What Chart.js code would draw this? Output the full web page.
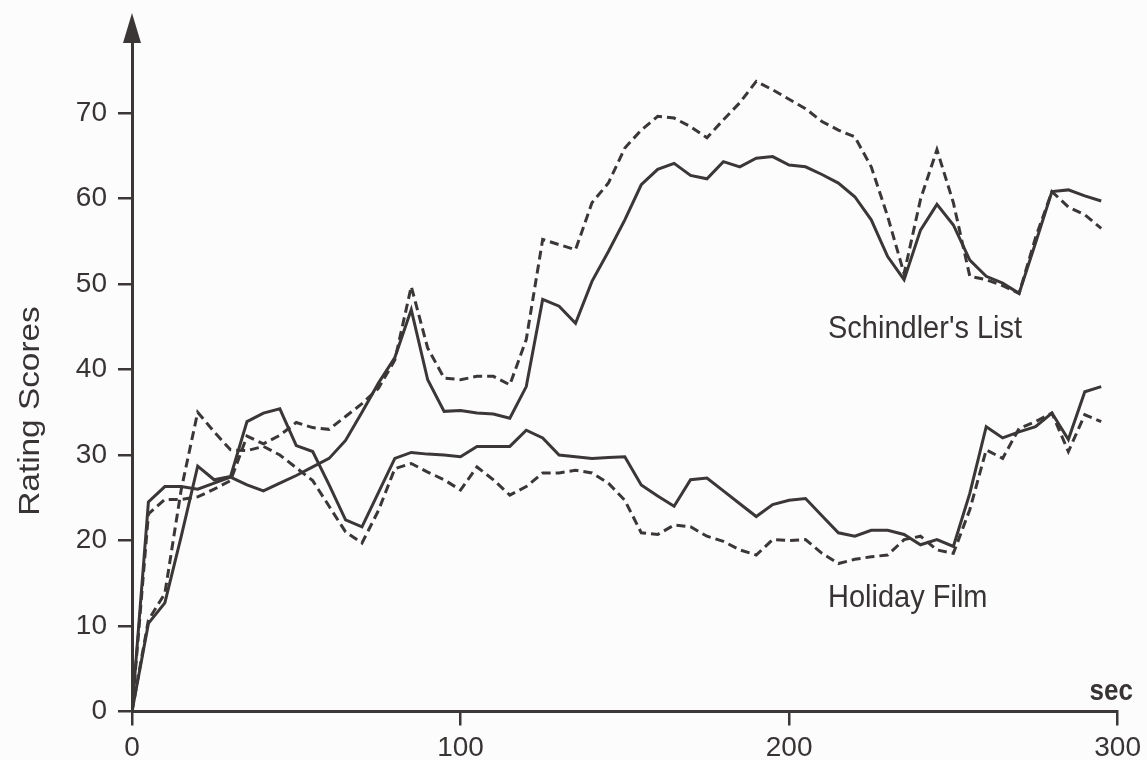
<!DOCTYPE html>
<html>
<head>
<meta charset="utf-8">
<script src="https://cdn.jsdelivr.net/npm/chart.js@4.4.1/dist/chart.umd.min.js"></script>
<style>
  html, body { margin: 0; padding: 0; background: #fcfcfc; }
  #wrap { width: 1147px; height: 760px; position: relative; }
</style>
</head>
<body>
<div id="wrap"><canvas id="c"></canvas></div>
<script>
// ---- data (seconds, rating scores) ----
const times = [0,5,10,15,20,25,30,35,40,45,50,55,60,65,70,75,80,85,90,95,
  100,105,110,115,120,125,130,135,140,145,150,155,160,165,170,175,180,185,190,195,
  200,205,210,215,220,225,230,235,240,245,250,255,260,265,270,275,280,285,290,295];

const schindlerSolid = [0,24.5,26.3,26.3,26,26.7,27.4,26.5,25.8,26.7,27.6,28.6,29.6,31.7,35,38.4,41.4,47,38.8,35.1,
  35.2,34.9,34.8,34.3,38,48.2,47.4,45.4,50.3,53.8,57.5,61.6,63.4,64.1,62.7,62.3,64.3,63.7,64.7,64.9,
  63.9,63.7,62.8,61.8,60.2,57.5,53.2,50.5,56.3,59.3,56.9,52.8,50.9,50.1,48.9,54.8,60.8,61,60.3,59.7];

const schindlerDashed = [0,23.1,24.8,24.8,25.1,26,27,32.2,31.3,32.3,33.8,33.2,33,34.5,36,37.8,41.1,49.7,42.5,39,
  38.8,39.2,39.2,38.2,43.5,55.2,54.6,54,59.5,61.8,65.9,68,69.6,69.4,68.4,67.1,69.2,71.2,73.7,72.7,
  71.6,70.5,69,68,67.2,63.7,57.9,51.2,59.9,65.7,59.5,50.9,50.5,49.8,48.9,55.4,60.8,59,58.1,56.5];

const holidaySolid = [0,10.3,12.7,20.5,28.7,27.1,27.5,33.9,34.9,35.4,31.1,30.4,26.5,22.4,21.6,25.6,29.6,30.3,30.1,30,
  29.8,31,31,31,32.9,32,30,29.8,29.6,29.7,29.8,26.5,25.2,24,27.1,27.3,25.8,24.3,22.8,24.2,
  24.7,24.9,22.9,20.9,20.5,21.2,21.2,20.7,19.5,20.1,19.3,25.5,33.3,32,32.7,33.3,34.9,31.8,37.4,38];

const holidayDashed = [0,10.7,13.8,26,35,32.7,30.6,30.5,31,30,28.5,27,24,21,19.7,23.5,28.4,29,28,27.1,
  25.9,28.6,27.1,25.3,26.3,27.9,27.9,28.2,27.9,26.7,24.7,20.9,20.7,21.8,21.6,20.5,19.9,18.9,18.3,20.1,
  20,20.1,18.5,17.3,17.8,18.1,18.3,20.1,20.5,18.9,18.5,23.6,30.6,29.6,33.1,33.9,34.9,30.4,34.7,33.9];

const xTicks = [0, 100, 200, 300];
const yTicks = [0, 10, 20, 30, 40, 50, 60, 70];

const seriesLabels = ["Schindler's List", "Schindler's List (dashed)", "Holiday Film", "Holiday Film (dashed)"];
const axisTitleY = "Rating Scores";
const axisTitleX = "sec";
const lineNames = ["Schindler's List", "Holiday Film"];

// ---- styling ----
const INK = '#3b3737';
const TEXT = '#383434';
const FONT = "'Liberation Sans', Arial, Helvetica, sans-serif";

function pts(ys) { return times.map((t, i) => ({ x: t, y: ys[i] })); }

const solidStyle = { borderColor: INK, borderWidth: 3, pointRadius: 0, tension: 0, fill: false };
const dashStyle = { borderColor: INK, borderWidth: 3, pointRadius: 0, tension: 0, fill: false, borderDash: [9, 5] };

function stretchedText(ctx, txt, x, y, sy) {
  ctx.save();
  ctx.translate(x, y);
  ctx.scale(1, sy);
  ctx.fillText(txt, 0, 0);
  ctx.restore();
}

const decor = {
  id: 'decor',
  afterDraw(chart) {
    const ctx = chart.ctx;
    const ca = chart.chartArea;
    ctx.save();
    // arrow head on y axis
    ctx.fillStyle = INK;
    ctx.beginPath();
    ctx.moveTo(ca.left, ca.top - 17);
    ctx.lineTo(ca.left - 9, ca.top + 13);
    ctx.lineTo(ca.left + 9, ca.top + 13);
    ctx.closePath();
    ctx.fill();
    // labels
    ctx.fillStyle = TEXT;
    ctx.textBaseline = 'alphabetic';
    ctx.font = '29px ' + FONT;
    ctx.textAlign = 'left';
    stretchedText(ctx, lineNames[0], 828, 338, 1.1);
    stretchedText(ctx, lineNames[1], 828, 607, 1.1);
    ctx.font = 'bold 26px ' + FONT;
    ctx.textAlign = 'right';
    stretchedText(ctx, axisTitleX, 1133, 700, 1.1);
    // y title
    ctx.font = '29px ' + FONT;
    ctx.translate(31, 411);
    ctx.rotate(-Math.PI / 2);
    ctx.scale(1.15, 1);
    ctx.textAlign = 'center';
    ctx.textBaseline = 'middle';
    ctx.fillText(axisTitleY, 0, 0);
    ctx.restore();
  }
};

new Chart(document.getElementById('c'), {
  type: 'line',
  data: {
    datasets: [
      Object.assign({ label: seriesLabels[0], data: pts(schindlerSolid) }, solidStyle),
      Object.assign({ label: seriesLabels[1], data: pts(schindlerDashed) }, dashStyle),
      Object.assign({ label: seriesLabels[2], data: pts(holidaySolid) }, solidStyle),
      Object.assign({ label: seriesLabels[3], data: pts(holidayDashed) }, dashStyle)
    ]
  },
  options: {
    responsive: true,
    maintainAspectRatio: false,
    animation: false,
    layout: { padding: { top: 30, right: 27, left: 0, bottom: 0 } },
    plugins: { legend: { display: false }, tooltip: { enabled: false } },
    scales: {
      x: {
        type: 'linear', position: 'bottom', min: 0, max: 300,
        afterBuildTicks: s => { s.ticks = xTicks.map(v => ({ value: v })); },
        afterFit: s => { s.height = 48.5; },
        ticks: { color: TEXT, font: { family: FONT, size: 28 }, padding: 6, maxRotation: 0, autoSkip: false },
        grid: { drawOnChartArea: false, drawTicks: true, tickLength: 14, color: INK, lineWidth: 2.5 },
        border: { display: true, color: INK, width: 3 }
      },
      y: {
        type: 'linear', position: 'left', min: 0, max: 79.7,
        afterBuildTicks: s => { s.ticks = yTicks.map(v => ({ value: v })); },
        afterFit: s => { s.width = 132; },
        ticks: { color: TEXT, font: { family: FONT, size: 28 }, padding: 11, autoSkip: false },
        grid: { drawOnChartArea: false, drawTicks: true, tickLength: 14, color: INK, lineWidth: 2.5 },
        border: { display: true, color: INK, width: 3 }
      }
    }
  },
  plugins: [decor]
});
</script>
</body>
</html>
